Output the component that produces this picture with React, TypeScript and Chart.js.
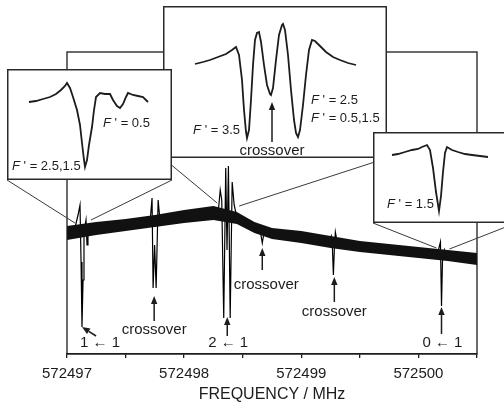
import React, { useEffect, useRef } from 'react';
import { Chart, registerables } from 'chart.js';

Chart.register(...registerables);

const FONT = '"Liberation Sans", Arial, Helvetica, sans-serif';
const INK = '#1c1c1c';

// ---------- main spectrum (frequency in MHz, signal in arbitrary units) ----------
const bandFreq = [572497.0, 572497.25, 572497.5, 572497.75, 572498.0, 572498.25, 572498.45, 572498.6, 572498.75, 572499.0, 572499.25, 572499.5, 572499.75, 572500.0, 572500.25, 572500.5];
const bandTop = [128, 132, 135, 139, 144, 148, 142, 132, 126, 123, 118, 113, 110, 107, 104, 101];
const bandBottom = [114, 119, 123, 127, 131, 134, 130, 121, 115, 111, 106, 102, 99, 96, 93, 89];

const signalFreq = [
  572497.0, 572497.068, 572497.094, 572497.111, 572497.12, 572497.128, 572497.137, 572497.145, 572497.162, 572497.171, 572497.179,
  572497.25, 572497.5, 572497.709,
  572497.726, 572497.735, 572497.748, 572497.761, 572497.778, 572497.795,
  572498.0, 572498.25, 572498.291,
  572498.308, 572498.321, 572498.338, 572498.355, 572498.366, 572498.378, 572498.393, 572498.41, 572498.427, 572498.453,
  572498.5, 572498.6, 572498.65, 572498.667, 572498.684, 572498.75, 572499.0, 572499.24,
  572499.256, 572499.265, 572499.274, 572499.282, 572499.291, 572499.308,
  572499.5, 572499.75, 572500.0, 572500.162,
  572500.188, 572500.197, 572500.205, 572500.222, 572500.239, 572500.25, 572500.5,
];
const signalValue = [
  121, 126, 139, 149, 92, 27, 74, 122, 134, 109, 126,
  125, 128.5, 132,
  156, 66, 109, 66, 154, 132,
  137, 140.5, 142,
  164, 154, 36, 186, 104, 188, 36, 172, 149, 135,
  133, 126, 123, 111, 123, 120, 116.5, 113,
  118, 109, 79, 104, 122, 111,
  107, 104, 101, 100,
  112, 48, 92, 104, 98, 98, 94.5,
];

const xMin = 572497;
const xMax = 572500.5;
const xStep = 0.5;
const yMin = 0;
const yMax = 302;
const xTitle = 'FREQUENCY / MHz';

// annotations on the main spectrum: label position and arrow tail/tip (freq, signal)
const noteText = ['1 ← 1', 'crossover', '2 ← 1', 'crossover', 'crossover', '0 ← 1'];
const noteFreq = [572497.282, 572497.744, 572498.376, 572498.701, 572499.282, 572500.205];
const noteValue = [11, 24, 11, 69, 42, 11];
const arrowTailFreq = [572497.248, 572497.744, 572498.368, 572498.667, 572499.282, 572500.197];
const arrowTailValue = [18, 33, 18, 84, 52, 20];
const arrowTipFreq = [572497.128, 572497.744, 572498.368, 572498.667, 572499.282, 572500.197];
const arrowTipValue = [27, 58, 37, 106, 77, 47];

// ---------- insets (arbitrary units) ----------
const insetAX = [22, 29, 36, 43, 49, 54, 58, 60, 63, 66, 70, 73, 75, 77, 78, 80, 82, 85, 87, 89, 93, 98, 103, 106, 110, 113, 116, 119, 121, 126, 131, 136, 141];
const insetAY = [78, 79, 81, 83, 86, 90, 94, 97, 92, 83, 70, 55, 37, 20, 13, 20, 35, 53, 70, 83, 87, 86, 86, 80, 74, 72, 76, 83, 87, 85, 84, 83, 78];

const insetBX = [32, 40, 47, 55, 63, 69, 73, 76, 79, 81, 83, 84, 86, 88, 90, 92, 94, 96, 98, 101, 104, 107, 108, 110, 113, 116, 119, 120, 122, 125, 128, 131, 133, 135, 137, 140, 143, 146, 149, 152, 157, 163, 170, 177, 185, 193];
const insetBY = [94, 96, 98, 101, 104, 108, 111, 103, 78, 48, 26, 20, 28, 58, 93, 118, 125, 126, 116, 93, 73, 64, 63, 70, 98, 123, 133, 134, 128, 103, 68, 38, 25, 21, 28, 53, 83, 108, 118, 117, 112, 106, 101, 98, 95, 93];

const insetCX = [19, 25, 32, 39, 45, 49, 54, 57, 60, 63, 66, 68, 70, 72, 74, 79, 85, 92, 99, 107, 115];
const insetCY = [68, 69, 71, 73, 74, 76, 78, 73, 55, 31, 12, 27, 51, 70, 76, 73, 71, 69, 68, 67, 66];

type Box = { left: number; top: number; width: number; height: number };
const boxA: Box = { left: 7, top: 69, width: 165, height: 111 };
const boxB: Box = { left: 163, top: 6, width: 224, height: 152 };
const boxC: Box = { left: 373, top: 132, width: 143, height: 91 };

// zoom windows on main spectrum where the connector lines end (freq, signal)
const connA = [[572497.068, 131], [572497.205, 134]];
const connB = [[572498.282, 151], [572498.47, 148]];
const connC = [[572500.154, 106], [572500.265, 105]];

type FLabel = { x: number; y: number; rest: string; align: 'left' | 'right' };
const labelsA: FLabel[] = [
  { x: 96, y: 57, rest: " ' = 0.5", align: 'left' },
  { x: 5, y: 14, rest: " ' = 2.5,1.5", align: 'left' },
];
const labelsB: FLabel[] = [
  { x: 77, y: 28, rest: " ' = 3.5", align: 'right' },
  { x: 148, y: 58, rest: " ' = 2.5", align: 'left' },
  { x: 148, y: 40, rest: " ' = 0.5,1.5", align: 'left' },
];
const labelsC: FLabel[] = [{ x: 14, y: 19, rest: " ' = 1.5", align: 'left' }];
const plainB = [{ x: 109, y: 7, text: 'crossover' }];
const arrowB = [{ x1: 109, y1: 16, x2: 109, y2: 56 }];

function drawArrow(ctx: CanvasRenderingContext2D, x1: number, y1: number, x2: number, y2: number) {
  const ang = Math.atan2(y2 - y1, x2 - x1);
  const head = 8;
  const half = 3.2;
  const bx = x2 - head * Math.cos(ang);
  const by = y2 - head * Math.sin(ang);
  ctx.beginPath();
  ctx.moveTo(x1, y1);
  ctx.lineTo(bx, by);
  ctx.stroke();
  ctx.beginPath();
  ctx.moveTo(x2, y2);
  ctx.lineTo(bx + half * Math.sin(ang), by - half * Math.cos(ang));
  ctx.lineTo(bx - half * Math.sin(ang), by + half * Math.cos(ang));
  ctx.closePath();
  ctx.fill();
}

function drawFLabel(ctx: CanvasRenderingContext2D, x: number, y: number, rest: string, align: 'left' | 'right') {
  const it = `italic 13px ${FONT}`;
  const nm = `13px ${FONT}`;
  ctx.font = it;
  const wF = ctx.measureText('F').width;
  ctx.font = nm;
  const wR = ctx.measureText(rest).width;
  const start = align === 'right' ? x - wF - wR : x;
  ctx.textAlign = 'left';
  ctx.textBaseline = 'middle';
  ctx.fillStyle = INK;
  ctx.font = it;
  ctx.fillText('F', start, y);
  ctx.font = nm;
  ctx.fillText(rest, start + wF, y);
}

function Inset(props: {
  box: Box; xs: number[]; ys: number[]; labels: FLabel[]; z: number;
  plain?: { x: number; y: number; text: string }[];
  arrows?: { x1: number; y1: number; x2: number; y2: number }[];
}) {
  const ref = useRef<HTMLCanvasElement>(null);
  const { box, xs, ys, labels, z, plain, arrows } = props;
  useEffect(() => {
    const chart = new Chart(ref.current as HTMLCanvasElement, {
      type: 'line',
      data: {
        datasets: [{
          data: xs.map((x, i) => ({ x, y: ys[i] })),
          borderColor: INK,
          borderWidth: 1.8,
          pointRadius: 0,
          tension: 0,
          fill: false,
        }],
      },
      options: {
        animation: false,
        responsive: false,
        devicePixelRatio: 1,
        events: [],
        layout: { padding: 0 },
        plugins: { legend: { display: false }, tooltip: { enabled: false } },
        scales: {
          x: { type: 'linear', min: 0, max: box.width, display: false },
          y: { type: 'linear', min: 0, max: box.height, display: false },
        },
      },
      plugins: [{
        id: 'insetDeco',
        beforeDraw(c: any) {
          const ctx = c.ctx;
          ctx.save();
          ctx.fillStyle = '#fff';
          ctx.fillRect(0, 0, c.width, c.height);
          ctx.restore();
        },
        afterDraw(c: any) {
          const ctx = c.ctx;
          const sx = c.scales.x, sy = c.scales.y;
          ctx.save();
          ctx.strokeStyle = '#2a2a2a';
          ctx.lineWidth = 1.5;
          ctx.strokeRect(0.75, 0.75, c.width - 1.5, c.height - 1.5);
          labels.forEach(l => drawFLabel(ctx, sx.getPixelForValue(l.x), sy.getPixelForValue(l.y), l.rest, l.align));
          (plain || []).forEach(p => {
            ctx.font = `15px ${FONT}`;
            ctx.fillStyle = INK;
            ctx.textAlign = 'center';
            ctx.textBaseline = 'middle';
            ctx.fillText(p.text, sx.getPixelForValue(p.x), sy.getPixelForValue(p.y));
          });
          ctx.strokeStyle = INK;
          ctx.fillStyle = INK;
          ctx.lineWidth = 1.5;
          (arrows || []).forEach(a => drawArrow(ctx, sx.getPixelForValue(a.x1), sy.getPixelForValue(a.y1), sx.getPixelForValue(a.x2), sy.getPixelForValue(a.y2)));
          ctx.restore();
        },
      }],
    } as any);
    return () => chart.destroy();
  }, []);
  return (
    <canvas
      ref={ref}
      width={box.width}
      height={box.height}
      style={{ position: 'absolute', left: box.left, top: box.top, width: box.width, height: box.height, zIndex: z }}
    />
  );
}

function MainChart() {
  const ref = useRef<HTMLCanvasElement>(null);
  useEffect(() => {
    const chart = new Chart(ref.current as HTMLCanvasElement, {
      type: 'line',
      data: {
        datasets: [
          {
            data: bandFreq.map((f, i) => ({ x: f, y: bandTop[i] })),
            borderWidth: 0,
            borderColor: 'rgba(0,0,0,0)',
            backgroundColor: '#111',
            pointRadius: 0,
            fill: '+1',
            tension: 0,
          },
          {
            data: bandFreq.map((f, i) => ({ x: f, y: bandBottom[i] })),
            borderWidth: 0,
            borderColor: 'rgba(0,0,0,0)',
            pointRadius: 0,
            fill: false,
            tension: 0,
          },
          {
            data: signalFreq.map((f, i) => ({ x: f, y: signalValue[i] })),
            borderColor: '#000',
            borderWidth: 1.2,
            pointRadius: 0,
            fill: false,
            tension: 0,
          },
        ],
      },
      options: {
        animation: false,
        responsive: false,
        devicePixelRatio: 1,
        events: [],
        layout: { padding: { left: 67, right: 27, top: 52, bottom: 1 } },
        plugins: { legend: { display: false }, tooltip: { enabled: false } },
        scales: {
          x: {
            type: 'linear',
            min: xMin,
            max: xMax,
            afterFit: (s: any) => { s.height = 49; },
            ticks: {
              stepSize: xStep,
              autoSkip: false,
              maxRotation: 0,
              padding: 8,
              color: INK,
              font: { family: FONT, size: 15, lineHeight: 1 },
              callback: (v: any) => (Math.abs(v - Math.round(v)) < 1e-6 ? String(Math.round(v)) : ''),
            },
            grid: { drawOnChartArea: false, drawTicks: true, tickLength: 4, color: INK, lineWidth: 1.3 },
            border: { display: true, color: INK, width: 1.3 },
            title: {
              display: true,
              text: xTitle,
              color: INK,
              font: { family: FONT, size: 16, lineHeight: 1 },
              padding: { top: 7, bottom: 0 },
            },
          },
          y: { type: 'linear', min: yMin, max: yMax, display: false },
        },
      },
      plugins: [{
        id: 'mainDeco',
        beforeDraw(c: any) {
          const ctx = c.ctx;
          ctx.save();
          ctx.fillStyle = '#fff';
          ctx.fillRect(0, 0, c.width, c.height);
          ctx.restore();
        },
        afterDraw(c: any) {
          const ctx = c.ctx;
          const sx = c.scales.x, sy = c.scales.y;
          const a = c.chartArea;
          ctx.save();
          // frame
          ctx.strokeStyle = INK;
          ctx.lineWidth = 1.3;
          ctx.strokeRect(a.left, a.top, a.right - a.left, a.bottom - a.top);
          // connectors from inset boxes to the zoomed regions
          ctx.strokeStyle = '#3a3a3a';
          ctx.lineWidth = 1;
          const conn = (box: Box, pts: number[][]) => {
            const corners = [[box.left, box.top + box.height], [box.left + box.width, box.top + box.height]];
            pts.forEach((p, i) => {
              ctx.beginPath();
              ctx.moveTo(corners[i][0], corners[i][1]);
              ctx.lineTo(sx.getPixelForValue(p[0]), sy.getPixelForValue(p[1]));
              ctx.stroke();
            });
          };
          conn(boxA, connA);
          conn(boxB, connB);
          conn(boxC, connC);
          // arrows and notes
          ctx.strokeStyle = INK;
          ctx.fillStyle = INK;
          ctx.lineWidth = 1.5;
          for (let i = 0; i < noteText.length; i++) {
            drawArrow(ctx,
              sx.getPixelForValue(arrowTailFreq[i]), sy.getPixelForValue(arrowTailValue[i]),
              sx.getPixelForValue(arrowTipFreq[i]), sy.getPixelForValue(arrowTipValue[i]));
            ctx.font = `15px ${FONT}`;
            ctx.textAlign = 'center';
            ctx.textBaseline = 'middle';
            ctx.fillText(noteText[i], sx.getPixelForValue(noteFreq[i]), sy.getPixelForValue(noteValue[i]));
          }
          ctx.restore();
        },
      }],
    } as any);
    return () => chart.destroy();
  }, []);
  return (
    <canvas ref={ref} width={504} height={404} style={{ position: 'absolute', left: 0, top: 0, width: 504, height: 404, zIndex: 0 }} />
  );
}

export default function App() {
  return (
    <div style={{ position: 'fixed', left: 0, top: 0, width: 504, height: 404, overflow: 'hidden', background: '#fff' }}>
      <MainChart />
      <Inset box={boxB} xs={insetBX} ys={insetBY} labels={labelsB} plain={plainB} arrows={arrowB} z={1} />
      <Inset box={boxC} xs={insetCX} ys={insetCY} labels={labelsC} z={2} />
      <Inset box={boxA} xs={insetAX} ys={insetAY} labels={labelsA} z={3} />
    </div>
  );
}
